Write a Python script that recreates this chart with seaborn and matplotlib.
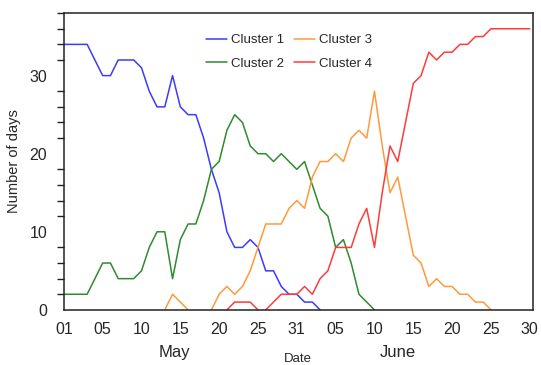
import numpy as np
import pandas as pd
import seaborn as sns
import matplotlib.pyplot as plt
from matplotlib.ticker import MultipleLocator

# number of days per cluster, one value per day from 1 May (index 0) to 30 June (index 60)
cluster1 = [34, 34, 34, 34, 32, 30, 30, 32, 32, 32, 31, 28, 26, 26, 30, 26, 25, 25, 22, 18,
            15, 10, 8, 8, 9, 8, 5, 5, 3, 2, 2, 1, 1, 0] + [0] * 27
cluster2 = [2, 2, 2, 2, 4, 6, 6, 4, 4, 4, 5, 8, 10, 10, 4, 9, 11, 11, 14, 18,
            19, 23, 25, 24, 21, 20, 20, 19, 20, 19, 18, 19, 16, 13, 12, 8, 9, 6, 2, 1,
            0] + [0] * 20
cluster3 = [0] * 13 + [0, 2, 1, 0, 0, 0, 0, 2, 3, 2, 3, 5, 8, 11, 11, 11, 13, 14, 13, 17,
                       19, 19, 20, 19, 22, 23, 22, 28, 21, 15, 17, 12, 7, 6, 3, 4, 3, 3, 2, 2,
                       1, 1, 0] + [0] * 5
cluster4 = [0] * 21 + [0, 1, 1, 1, 0, 0, 1, 2, 2, 2, 3, 2, 4, 5, 8, 8, 8, 11, 13, 8,
                       15, 21, 19, 24, 29, 30, 33, 32, 33, 33, 34, 34, 35, 35, 36, 36, 36, 36, 36, 36]

names = ["Cluster 1", "Cluster 2", "Cluster 3", "Cluster 4"]
colors = ["#3b3bff", "#2e8b2e", "#ff9a3c", "#ff3b3b"]

tick_pos = list(range(0, 61, 5))
tick_labels = ["01", "05", "10", "15", "20", "25", "31", "05", "10", "15", "20", "25", "30"]


# zero days are only drawn next to a non-zero day, so split each series into runs
def make_runs(name, vals):
    rows = []
    run = 0
    prev = False
    for i in range(len(vals) - 1):
        drawn = vals[i] > 0 or vals[i + 1] > 0
        if drawn:
            if not prev:
                run += 1
                rows.append((name, f"{name}-{run}", i, vals[i]))
            rows.append((name, f"{name}-{run}", i + 1, vals[i + 1]))
        prev = drawn
    return rows


rows = []
for n, v in zip(names, [cluster1, cluster2, cluster3, cluster4]):
    rows += make_runs(n, v)
df = pd.DataFrame(rows, columns=["cluster", "seg", "day", "ndays"])

sns.set_style("white")
plt.rcParams["font.family"] = ["Liberation Sans", "DejaVu Sans"]

fig = plt.figure(figsize=(5.41, 3.65), dpi=100)
ax = fig.add_axes([0.118, 0.151, 0.867, 0.813])

sns.lineplot(data=df, x="day", y="ndays", hue="cluster", units="seg", estimator=None,
             palette=dict(zip(names, colors)), hue_order=names, linewidth=1.1, ax=ax)

ax.set_xlim(0, 60.4)
ax.set_ylim(0, 38)
ax.set_xticks(tick_pos)
ax.set_xticklabels(tick_labels)
ax.set_yticks([0, 10, 20, 30])
ax.yaxis.set_minor_locator(MultipleLocator(2))
ax.tick_params(axis="x", direction="in", length=8, width=1.1, labelsize=11.5, pad=9, color="#222222")
ax.tick_params(axis="y", which="major", direction="out", length=10, width=1.1, labelsize=11.5, pad=2, color="#222222")
ax.tick_params(axis="y", which="minor", direction="out", length=5, width=1.0, color="#222222", left=True)
for s in ax.spines.values():
    s.set_color("#222222")
    s.set_linewidth(1.1)

ax.set_xlabel("Date", fontsize=9.5)
ax.xaxis.set_label_coords(0.5, -0.145)
ax.set_ylabel("Number of days", fontsize=10.5, labelpad=6)

ax.text(14.2, -0.145, "May", transform=ax.get_xaxis_transform(), ha="center", va="center", fontsize=12)
ax.text(43, -0.145, "June", transform=ax.get_xaxis_transform(), ha="center", va="center", fontsize=12)

handles, labels = ax.get_legend_handles_labels()
ax.legend(handles, labels, ncol=2, frameon=False, fontsize=9.5, handlelength=1.6, handletextpad=0.3,
          columnspacing=0.8, labelspacing=0.85, loc="upper center", bbox_to_anchor=(0.48, 0.97))

fig.savefig("out.png", dpi=100)
